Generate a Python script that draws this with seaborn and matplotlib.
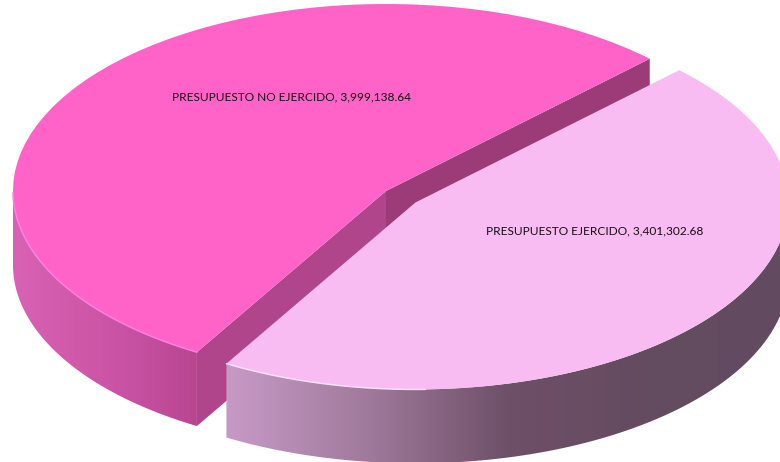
import numpy as np
import seaborn as sns
import matplotlib.pyplot as plt
from matplotlib.patches import Polygon

sns.set_theme(style='white')
plt.rcParams['font.family'] = ['Lato', 'DejaVu Sans']

# datos
labels = ['PRESUPUESTO NO EJERCIDO', 'PRESUPUESTO EJERCIDO']
values = [3999138.64, 3401302.68]
explode = [0, 0.1]

top_colors = ['#ff63c8', '#f8bbf2']
rim_colors = ['#ff7fe0', '#fde0fa']
rim_span = [59, 32]    # grados de brillo desde el borde de corte
wall_grad = [['#d862b4', '#d059aa', '#c650a2', '#b8468f'],
             ['#c79ac6', '#a07a9c', '#6e5068', '#644b60', '#624c62']]
cut_colors = ['#9b3c78', '#b0458c']

W, H = 780, 462
RX, RY = 373, 187      # radios de la elipse en pixeles
CX, CY = 386, 191      # centro de la tarta
DEPTH = 0.395          # grosor del cilindro

fig = plt.figure(figsize=(W / 100, H / 100), dpi=100)
ax = fig.add_axes([0, 0, 1, 1])

wedges, _ = ax.pie(values, explode=explode, colors=top_colors, startangle=45,
                   radius=1, wedgeprops={'linewidth': 0})
# aplastar el circulo para la vista 3D
ax.set_aspect('auto')


def arc(w, t1, t2):
    t = np.radians(np.linspace(t1, t2, 200))
    return w.center[0] + w.r * np.cos(t), w.center[1] + w.r * np.sin(t)


for i, w in enumerate(wedges):
    base = i * 10
    w.set_zorder(base + 3)

    # pared exterior con degradado
    t1 = max(w.theta1, 180)
    t2 = min(w.theta2, 360)
    x, y = arc(w, t1, t2)
    poly = np.vstack([np.column_stack([x, y]),
                      np.column_stack([x[::-1], y[::-1] - DEPTH])])
    patch = Polygon(poly, closed=True, fc='none', ec='none', zorder=base + 1)
    ax.add_patch(patch)
    cmap = sns.blend_palette(wall_grad[i], as_cmap=True)
    im = ax.imshow(np.linspace(0, 1, 256)[None, :], cmap=cmap, aspect='auto',
                   extent=[x.min(), x.max(), poly[:, 1].min(), poly[:, 1].max()],
                   zorder=base + 1)
    im.set_clip_path(patch)

    # brillo del borde
    if i == 0:
        rx, ry = arc(w, t2 - rim_span[i], t2)
    else:
        rx, ry = arc(w, t1, t1 + rim_span[i])
    ax.plot(rx, ry, color=rim_colors[i], lw=1.1, zorder=base + 4)

# caras de corte de la primera rebanada
w = wedges[0]
for ang, col, z in [(w.theta1, cut_colors[0], 1), (w.theta2, cut_colors[1], 2)]:
    ex = w.center[0] + w.r * np.cos(np.radians(ang))
    ey = w.center[1] + w.r * np.sin(np.radians(ang))
    cx0, cy0 = w.center
    ax.add_patch(Polygon([(cx0, cy0), (ex, ey), (ex, ey - DEPTH), (cx0, cy0 - DEPTH)],
                         closed=True, fc=col, ec='none', zorder=z))

ax.set_xlim(-CX / RX, (W - CX) / RX)
ax.set_ylim((CY - H) / RY, CY / RY)

# etiquetas
pos = [(172, 97), (486, 231)]
for name, v, (px, py) in zip(labels, values, pos):
    fig.text(px / W, 1 - py / H, f'{name}, {v:,.2f}', fontsize=8.6, color='#111111',
             ha='left', va='center', zorder=50)

plt.savefig('out.png', dpi=100)
